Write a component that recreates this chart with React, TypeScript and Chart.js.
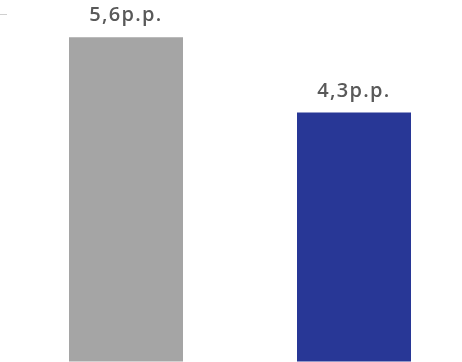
import React, { useEffect, useRef } from "react";
import { Chart, registerables } from "chart.js";

Chart.register(...registerables);

const categories = ["A", "B"];
const values = [5.6, 4.3];
const valueLabels = ["5,6p.p.", "4,3p.p."];
const barColors = ["#a5a5a5", "#283796"];
const yMax = 6;

const labelPlugin = {
  id: "barLabels",
  afterDatasetsDraw(chart: any) {
    const ctx = chart.ctx;
    const meta = chart.getDatasetMeta(0);
    ctx.save();
    ctx.fillStyle = "#595959";
    ctx.font = "600 20px 'Open Sans'";
    try { ctx.letterSpacing = "1.3px"; } catch (e) {}
    ctx.textAlign = "center";
    ctx.textBaseline = "alphabetic";
    meta.data.forEach((bar: any, i: number) => {
      ctx.fillText(valueLabels[i], bar.x, bar.y - 16);
    });
    ctx.restore();
  },
};

export default function App() {
  const ref = useRef<HTMLCanvasElement | null>(null);
  useEffect(() => {
    if (!ref.current) return;
    const chart = new Chart(ref.current, {
      type: "bar",
      data: {
        labels: categories,
        datasets: [
          {
            data: values,
            backgroundColor: barColors,
            borderWidth: 0,
            categoryPercentage: 1,
            barPercentage: 0.5,
          },
        ],
      },
      options: {
        responsive: false,
        animation: false,
        layout: { padding: { top: 14, right: 12, left: 0, bottom: 0 } },
        plugins: { legend: { display: false }, tooltip: { enabled: false } },
        scales: {
          x: { display: false },
          y: {
            min: 0,
            max: yMax,
            border: { display: false },
            ticks: { display: false, stepSize: 1 },
            grid: {
              drawOnChartArea: false,
              tickLength: 12,
              tickBorderDash: [7, 100],
              tickColor: (c: any) => (c.tick && c.tick.value === yMax ? "#d0d0d0" : "rgba(0,0,0,0)"),
            },
          },
        },
      },
      plugins: [labelPlugin],
    });
    return () => chart.destroy();
  }, []);
  return (
    <div style={{ position: "fixed", left: 0, top: 0, width: 462, height: 362, overflow: "hidden", background: "#fff" }}>
      <canvas ref={ref} width={480} height={362} style={{ display: "block" }} />
    </div>
  );
}
